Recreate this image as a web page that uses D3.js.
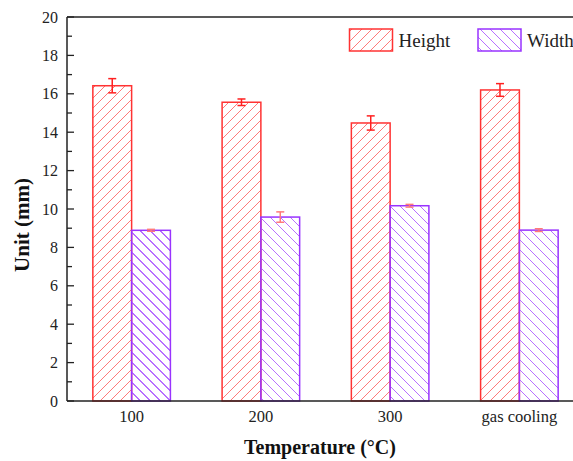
<!DOCTYPE html>
<html>
<head>
<meta charset="utf-8">
<script src="https://cdn.jsdelivr.net/npm/d3@7"></script>
<style>
  html, body { margin: 0; padding: 0; background: #fff; }
  svg { display: block; font-family: "Liberation Serif", "Times New Roman", serif; }
</style>
</head>
<body>
<svg id="chart" width="573" height="461"></svg>
<script>
// Categories, series values and their error half-widths
const categories = ["100", "200", "300", "gas cooling"];
const seriesNames = ["Height", "Width"];
const heightValues = [16.42, 15.56, 14.48, 16.2];
const heightErrors = [0.37, 0.17, 0.37, 0.33];
const widthValues = [8.89, 9.58, 10.17, 8.9];
const widthErrors = [0.05, 0.27, 0.07, 0.07];
const yTicks = [0, 2, 4, 6, 8, 10, 12, 14, 16, 18, 20];

const svg = d3.select("#chart");
const left = 67;
const plotRight = 584;           // frame runs past the visible edge

const x = d3.scaleBand()
  .domain(categories)
  .range([left, plotRight])
  .paddingInner(0.4)
  .paddingOuter(0.2);
const xSub = d3.scaleBand().domain(seriesNames).range([0, x.bandwidth()]);
const y = d3.scaleLinear().domain([0, 20]).range([401, 17]);

const colors = {
  Height: { stroke: "#ff3333", hatch: "#ff7a7a", err: "#ff2020" },
  Width:  { stroke: "#9933ff", hatch: "#b870ff", err: "#ff7a7a" }
};
const SPACING = 10;
const defs = svg.append("defs");
let clipId = 0;

// Hatched rectangle: outline plus diagonal lines clipped to the box.
// "/" for Height, "\" for Width.
function hatchedRect(g, x0, y0, w, h, key) {
  const id = "clip" + (clipId++);
  defs.append("clipPath").attr("id", id)
    .append("rect").attr("x", x0).attr("y", y0).attr("width", w).attr("height", h);
  const lines = g.append("g").attr("clip-path", `url(#${id})`)
    .attr("stroke", colors[key].hatch).attr("stroke-width", 1)
    .attr("shape-rendering", "crispEdges");
  const forward = key === "Height";
  const yb = y0 + h;
  const start = Math.floor((x0 - h) / SPACING) * SPACING;
  for (let k = start; k <= x0 + w + h; k += SPACING) {
    if (forward) {
      lines.append("line").attr("x1", k).attr("y1", yb).attr("x2", k + h).attr("y2", y0);
    } else {
      lines.append("line").attr("x1", k).attr("y1", y0).attr("x2", k + h).attr("y2", yb);
    }
  }
  g.append("rect")
    .attr("x", x0).attr("y", y0).attr("width", w).attr("height", h)
    .attr("fill", "none")
    .attr("stroke", colors[key].stroke).attr("stroke-width", 1.5);
}

const rows = categories.map((c, i) => ({
  cat: c,
  items: [
    { key: "Height", v: heightValues[i], e: heightErrors[i] },
    { key: "Width", v: widthValues[i], e: widthErrors[i] }
  ]
}));

// Bars
const barLayer = svg.append("g");
rows.forEach(r => {
  r.items.forEach(d => {
    const bx = x(r.cat) + xSub(d.key);
    hatchedRect(barLayer, bx, y(d.v), xSub.bandwidth(), y(0) - y(d.v), d.key);
  });
});

// Error bars
const errLayer = svg.append("g");
rows.forEach(r => {
  r.items.forEach(d => {
    const cx = x(r.cat) + xSub(d.key) + xSub.bandwidth() / 2;
    const g = errLayer.append("g")
      .attr("stroke", colors[d.key].err).attr("stroke-width", 1.5);
    g.append("line").attr("x1", cx).attr("x2", cx)
      .attr("y1", y(d.v + d.e)).attr("y2", y(d.v - d.e));
    [d.v + d.e, d.v - d.e].forEach(v => {
      g.append("line").attr("x1", cx - 4).attr("x2", cx + 4)
        .attr("y1", y(v)).attr("y2", y(v));
    });
  });
});

// Top frame line
svg.append("line")
  .attr("x1", left).attr("x2", plotRight)
  .attr("y1", y(20)).attr("y2", y(20))
  .attr("stroke", "#222").attr("stroke-width", 1.5);

// Y axis with inward ticks, minor ticks at odd values
const yAxis = svg.append("g").attr("transform", `translate(${left},0)`);
yAxis.append("line").attr("x1", 0).attr("x2", 0).attr("y1", y(20)).attr("y2", y(0))
  .attr("stroke", "#222").attr("stroke-width", 1.5);
yAxis.selectAll("line.minor").data(d3.range(1, 20, 2)).join("line").attr("class", "minor")
  .attr("x1", 0).attr("x2", 5).attr("y1", d => y(d)).attr("y2", d => y(d))
  .attr("stroke", "#222").attr("stroke-width", 1.3);
yAxis.selectAll("line.major").data(yTicks).join("line").attr("class", "major")
  .attr("x1", 0).attr("x2", 7).attr("y1", d => y(d)).attr("y2", d => y(d))
  .attr("stroke", "#222").attr("stroke-width", 1.3);
yAxis.selectAll("text").data(yTicks).join("text")
  .attr("x", -9).attr("y", d => y(d)).attr("dy", "0.35em")
  .attr("text-anchor", "end").attr("font-size", 16).attr("fill", "#222")
  .text(d => d);

// X axis: baseline and category labels
svg.append("line")
  .attr("x1", left).attr("x2", plotRight)
  .attr("y1", y(0)).attr("y2", y(0))
  .attr("stroke", "#222").attr("stroke-width", 1.5);
svg.append("g").selectAll("text").data(categories).join("text")
  .attr("x", d => x(d) + x.bandwidth() / 2)
  .attr("y", 421.5)
  .attr("text-anchor", "middle").attr("font-size", 16.5).attr("fill", "#222")
  .text(d => d);

// Axis titles
svg.append("text")
  .attr("x", 320).attr("y", 454)
  .attr("text-anchor", "middle").attr("font-size", 20).attr("font-weight", "bold")
  .attr("fill", "#111")
  .text("Temperature (°C)");
svg.append("text")
  .attr("transform", "translate(29,225) rotate(-90)")
  .attr("text-anchor", "middle").attr("font-size", 21).attr("font-weight", "bold")
  .attr("fill", "#111")
  .text("Unit (mm)");

// Legend
const legendX = [349.5, 478];
const legend = svg.append("g");
seriesNames.forEach((name, i) => {
  hatchedRect(legend, legendX[i], 29, 43, 22, name);
  legend.append("text")
    .attr("x", legendX[i] + 49).attr("y", 46.5)
    .attr("font-size", 19).attr("fill", "#222")
    .text(name);
});
</script>
</body>
</html>
